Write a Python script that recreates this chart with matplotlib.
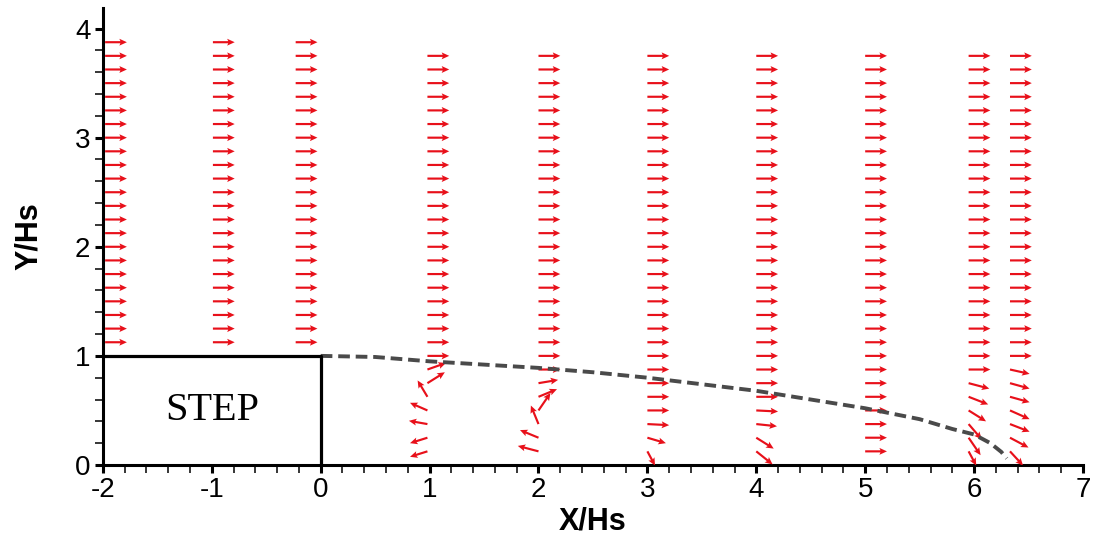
import numpy as np
import matplotlib
matplotlib.use("Agg")
import matplotlib.pyplot as plt

plt.rcParams["font.family"] = ["Liberation Sans", "DejaVu Sans"]
plt.rcParams["axes.unicode_minus"] = False

# kolumny wektorów przed stopniem (nad stopniem)
x_up = [-1.98, -0.99, -0.23]
y_up = [1.125, 1.25, 1.375, 1.5, 1.625, 1.75, 1.875, 2.0, 2.125, 2.25, 2.375, 2.5,
        2.625, 2.75, 2.875, 3.0, 3.125, 3.25, 3.375, 3.5, 3.625, 3.75, 3.875]

# kolumny za stopniem
x_down = [0.98, 2.0, 3.0, 4.0, 5.0, 5.95, 6.33]
y_down = [0.125, 0.25, 0.375, 0.5, 0.625, 0.75, 0.875, 1.0, 1.125, 1.25, 1.375, 1.5,
          1.625, 1.75, 1.875, 2.0, 2.125, 2.25, 2.375, 2.5, 2.625, 2.75, 2.875, 3.0,
          3.125, 3.25, 3.375, 3.5, 3.625, 3.75]

u_free = 0.2
v_free = 0.0

# wektory przy ścianie (od dołu), dalej przepływ swobodny
u_wall = {
    0.98: [-0.16, -0.16, -0.17, -0.16, -0.09, 0.16, 0.17],
    2.0: [-0.19, -0.17, -0.07, 0.11, 0.17, 0.18],
    3.0: [0.07, 0.17, 0.2],
    4.0: [0.15, 0.16, 0.19, 0.2],
    5.0: [],
    5.95: [0.07, 0.11, 0.12, 0.16, 0.18, 0.19],
    6.33: [0.12, 0.17, 0.18, 0.18, 0.18, 0.18, 0.18],
}
v_wall = {
    0.98: [-0.05, -0.05, 0.03, 0.07, 0.15, 0.10, 0.06],
    2.0: [0.05, 0.07, 0.17, 0.16, 0.07, 0.03],
    3.0: [-0.13, -0.05, -0.01],
    4.0: [-0.12, -0.10, -0.02, -0.01],
    5.0: [],
    5.95: [-0.13, -0.16, -0.14, -0.10, -0.07, -0.05],
    6.33: [-0.13, -0.09, -0.07, -0.08, -0.05, -0.05, -0.04],
}

# linia rozdziału (przerywana)
sep_x = [0, 0.5, 1.0, 1.5, 2.0, 2.5, 3.0, 3.5, 4.0, 4.5, 5.0, 5.5, 5.8, 6.0, 6.15, 6.25, 6.3]
sep_y = [1.0, 0.99, 0.95, 0.92, 0.89, 0.85, 0.80, 0.74, 0.68, 0.60, 0.52, 0.42, 0.33,
         0.28, 0.20, 0.12, 0.06]

# zbieranie wektorów
X, Y, U, V = [], [], [], []
for xc in x_up:
    for yc in y_up:
        X.append(xc); Y.append(yc); U.append(u_free); V.append(v_free)
for xc in x_down:
    uw, vw = u_wall[xc], v_wall[xc]
    for i, yc in enumerate(y_down):
        X.append(xc); Y.append(yc)
        if i < len(uw):
            U.append(uw[i]); V.append(vw[i])
        else:
            U.append(u_free); V.append(v_free)

fig = plt.figure(figsize=(10.95, 5.41), dpi=100)
ax = fig.add_axes([0.094, 0.1405, 0.895, 0.845])

ax.quiver(X, Y, U, V, angles="xy", scale_units="xy", scale=1, color="#e8101a",
          width=0.0022, headwidth=3.2, headlength=3.5, headaxislength=3.0, zorder=3)

ax.plot(sep_x, sep_y, color="#4a4a4a", lw=2.8, linestyle=(0, (3.0, 1.5)), zorder=4)

# stopień
ax.plot([-2, 0, 0], [1, 1, 0], color="black", lw=2.3, zorder=5)
ax.text(-1, 0.5, "STEP", family=["Liberation Serif", "DejaVu Serif"], fontsize=29,
        ha="center", va="center")

ax.set_xlim(-2, 7)
ax.set_ylim(0, 4.19)
ax.set_xticks(range(-2, 8))
ax.set_yticks(range(0, 5))
ax.set_xticks(np.arange(-2, 7.01, 0.2), minor=True)
ax.set_yticks(np.arange(0, 4.19, 0.2), minor=True)

for s in ["top", "right"]:
    ax.spines[s].set_visible(False)
for s in ["left", "bottom"]:
    ax.spines[s].set_linewidth(2.2)

ax.tick_params(which="major", direction="out", length=6, width=2.2, labelsize=20, pad=3)
ax.tick_params(which="minor", direction="out", length=6, width=1.1)

ax.set_xlabel("X/Hs", fontsize=22, fontweight="bold", labelpad=2)
ax.set_ylabel("Y/Hs", fontsize=22, fontweight="bold", labelpad=22)

fig.savefig("out.png", dpi=100)
